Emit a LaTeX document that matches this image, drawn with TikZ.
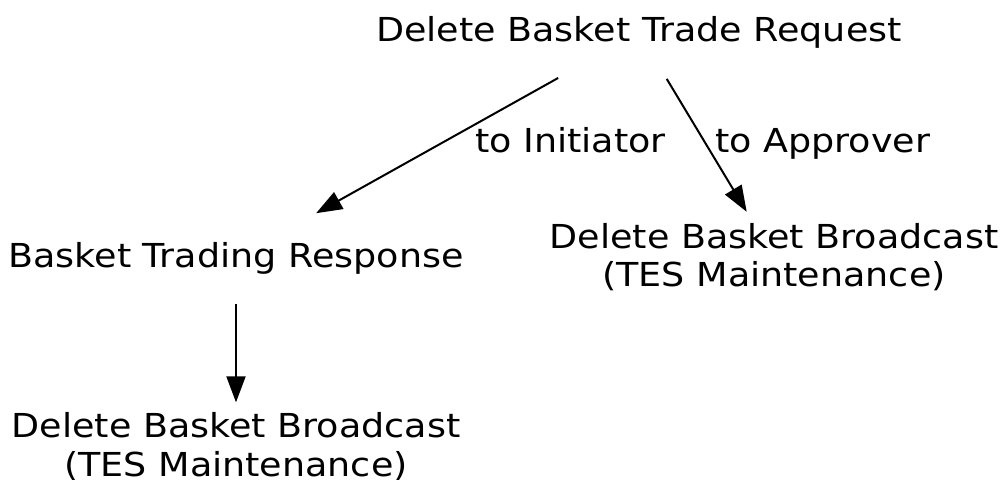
\documentclass[tikz,border=0pt]{standalone}
\usepackage{fontspec}
\setmainfont{DejaVu Sans}[FakeStretch=1.105]
\usetikzlibrary{arrows.meta,shapes.geometric}

\begin{document}
\begin{tikzpicture}[
  x=1pt, y=1pt,
  msg/.style={ellipse, inner sep=0pt, minimum height=92pt, align=center, font=\fontsize{33}{38.4}\selectfont},
  lbl/.style={inner sep=0pt, anchor=base west, font=\fontsize{33}{38.4}\selectfont},
  edge/.style={-{Triangle[length=26pt,width=19pt]}, line width=2pt},
]
\useasboundingbox (0,0) rectangle (1000,479);

\node[msg, minimum width=770pt] (req) at (639,446.2) {Delete Basket Trade Request};
\node[msg, minimum width=650pt] (resp) at (236,221) {Basket Trading Response};
\node[msg] (bcast_appr) at (774,221.8) {Delete Basket Broadcast\\(TES Maintenance)};
\node[msg] (bcast_init) at (236,32.5) {Delete Basket Broadcast\\(TES Maintenance)};

\draw[edge] (req) -- (resp);
\draw[edge, shorten >=-3pt] (req) -- (bcast_appr);
\draw[edge, shorten >=-4pt] (resp) -- (bcast_init);

\node[lbl] (l_init) at (475,326) {to Initiator};
\node[lbl] (l_appr) at (715,326) {to Approver};
\end{tikzpicture}
\end{document}
